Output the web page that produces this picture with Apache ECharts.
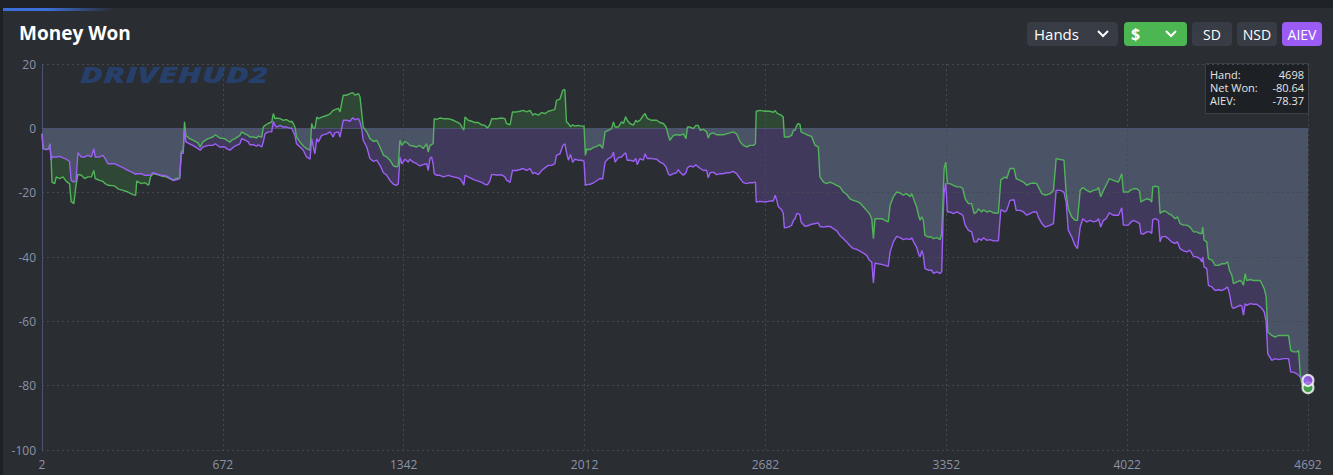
<!DOCTYPE html>
<html>
<head>
<meta charset="utf-8">
<script src="https://cdn.jsdelivr.net/npm/echarts@6/dist/echarts.min.js"></script>
<style>
  html, body { margin:0; padding:0; width:1333px; height:475px; background:#1e2125; overflow:hidden; }
  #panel { position:absolute; left:3px; top:8px; right:0; bottom:0; background:#2a2d32; }
  #bar { position:absolute; left:3px; top:8px; width:110px; height:3px; background:linear-gradient(90deg,#3c6fd9 0%,#3c6fd9 40%,rgba(60,111,217,0) 100%); }
  #chart { position:absolute; left:0; top:0; width:1333px; height:475px; }
</style>
</head>
<body>
<div id="panel"></div>
<div id="bar"></div>
<div id="chart"></div>
<script>
// ---- data ----
const hands = [
2,6,18,28,31,36,39,49,55,67,80,92,104,110,120,128,135,148,160,172,185,194,199,215,228,236,246,271,283,302,320,339,349,353,370,382,397,404,413,425,444,462,475,487,500,512,518,525,530,535,549,561,580,588,598,617,635,644,660,679,
686,698,705,717,735,742,754,766,772,785,797,803,816,822,828,840,853,859,865,871,884,896,908,921,927,933,939,945,958,970,982,995,1001,1007,1013,1020,1026,1038,1057,1069,1081,1087,1100,1106,1118,1131,1143,1153,1162,1174,1180,1186,1192,1205,1217,1230,1242,1254,1267,1279,1291,1304,1316,1322,1328,1335,1347,1359,
1365,1377,1390,1402,1414,1427,1433,1439,1445,1451,1455,1464,1476,1489,1507,1526,1538,1550,1560,1565,1569,1581,1594,1606,1618,1631,1643,1652,1661,1668,1686,1705,1717,1723,1736,1745,1760,1773,1785,1797,1810,1820,1828,1841,1853,1865,1878,1890,1902,1908,1921,1931,1939,1945,1952,1960,1968,1976,1989,2001,2010,2015,
2020,2032,2044,2057,2069,2079,2088,2100,2112,2119,2125,2137,2149,2156,2164,2170,2180,2193,2202,2207,2217,2230,2236,2244,2260,2279,2291,2304,2314,2322,2328,2341,2353,2359,2365,2378,2388,2393,2403,2415,2424,2433,2440,2452,2464,2470,2477,2489,2501,2514,2526,2538,2551,2563,2575,2588,2600,2612,2625,2637,2645,2648,2662,2680,2693,
2699,2711,2718,2724,2730,2742,2748,2752,2767,2779,2786,2792,2798,2804,2810,2814,2829,2841,2853,2866,2878,2884,2897,2909,2921,2934,2946,2958,2971,2983,2995,3008,3020,3032,3045,3057,3067,3076,3082,3088,3100,3113,3125,3137,3144,3156,3168,3181,3193,3205,3218,3224,3233,3242,3249,3255,3261,3267,3273,3286,3298,3304,3317,3329,3335,3340,3344,3350,3353,
3356,3366,3378,3391,3403,3413,3422,3434,3446,3455,3465,3471,3483,3490,3502,3514,3527,3545,3554,3570,3576,3588,3603,3611,3625,3638,3650,3662,3675,3687,3693,3706,3718,3737,3749,3759,3774,3788,3796,3804,3817,3829,3838,3848,3858,3872,3885,3897,3909,3916,3924,3934,3944,3956,3971,3990,4002,4008,4027,
4033,4045,4058,4068,4073,4082,4095,4107,4113,4117,4126,4138,4144,4150,4163,4175,4187,4200,4208,4218,4231,4243,4255,4268,4280,4292,4299,4302,4307,4317,4323,4336,4348,4360,4373,4385,4394,4401,4410,4416,4428,4441,4447,4453,4459,4465,4478,4490,4502,4515,4521,4530,4537,4543,4558,4570,4583,4601,4620,4628,4638,4651,4657,4663,4669,4681,4692
];
const aiev = [
-1.7,-6.3,-6.6,-6.3,-4.8,-9.9,-8.9,-8.9,-8.9,-8.7,-9.2,-9.6,-10.3,-16.2,-16.7,-16.2,-7.6,-8.9,-8.9,-8.4,-8.9,-6.3,-8.9,-8.9,-8.4,-9.4,-11.0,-11.0,-11.5,-12.2,-13.1,-13.8,-14.3,-14.1,-14.1,-14.6,-14.6,-14.6,-13.8,-14.1,-14.6,-14.8,-15.4,-16.2,-16.0,-15.6,-7.6,-7.9,-0.6,-4.2,-4.8,-5.3,-6.3,-6.8,-5.8,-5.3,-5.3,-4.8,-5.8,-5.8,
-6.3,-6.8,-6.3,-5.5,-4.8,-3.2,-3.7,-4.2,-5.1,-5.1,-5.6,-5.1,-5.8,-4.2,-1.7,-1.1,-1.1,2.2,0.9,0.4,0.9,0.4,0.4,0.0,0.1,-1.1,-2.2,-4.8,-5.8,-6.8,-8.9,-9.6,-3.2,-5.8,-7.9,-3.2,-4.2,-2.2,-1.7,-1.1,-2.7,-1.4,-1.1,-2.7,2.5,2.5,2.2,3.3,2.7,3.0,2.0,0.0,-3.7,-5.8,-9.4,-10.3,-9.9,-11.5,-13.8,-14.6,-16.2,-17.4,-17.7,-17.2,-8.9,-11.0,-9.6,-10.5,
-9.6,-10.5,-11.0,-11.7,-11.3,-11.0,-13.1,-9.4,-8.9,-11.0,-14.1,-14.6,-14.6,-15.1,-14.6,-15.1,-15.3,-15.6,-16.8,-17.7,-14.6,-15.1,-15.6,-16.1,-16.4,-16.8,-17.4,-17.6,-16.4,-14.3,-14.5,-14.5,-15.1,-16.1,-16.8,-13.1,-13.1,-12.8,-12.5,-13.1,-12.5,-14.1,-13.8,-14.4,-13.1,-12.3,-11.5,-11.5,-11.0,-8.4,-7.9,-5.4,-4.8,-7.4,-9.9,-8.1,-10.6,-9.6,-9.9,-9.9,-10.3,-17.7,
-17.5,-17.4,-17.0,-16.3,-15.6,-15.8,-10.5,-9.4,-8.9,-7.4,-10.5,-9.1,-8.9,-8.2,-7.6,-9.9,-9.9,-10.3,-9.4,-11.3,-9.4,-9.9,-7.9,-9.4,-9.4,-9.6,-10.5,-11.0,-12.0,-14.1,-14.6,-14.1,-13.8,-12.8,-13.6,-14.6,-13.8,-12.3,-11.7,-12.0,-11.3,-12.0,-12.4,-13.1,-13.0,-15.4,-13.8,-13.6,-14.4,-14.1,-14.1,-13.8,-13.8,-13.4,-14.1,-15.6,-16.9,-17.2,-16.9,-16.9,-16.7,-22.9,-22.7,-22.9,-22.7,
-22.6,-22.6,-20.8,-22.4,-24.4,-25.3,-26.5,-30.9,-30.7,-30.2,-28.6,-28.1,-26.5,-26.5,-27.0,-29.1,-30.5,-30.2,-29.8,-29.6,-29.4,-30.5,-30.7,-30.5,-30.5,-31.2,-31.9,-33.3,-34.3,-35.3,-36.5,-37.4,-37.6,-38.2,-38.8,-39.5,-41.0,-41.6,-48.1,-41.9,-42.1,-42.3,-42.6,-42.9,-38.4,-35.3,-33.6,-34.0,-34.6,-34.3,-34.6,-34.0,-35.6,-36.9,-39.0,-40.0,-38.0,-39.5,-43.6,-44.1,-44.1,-45.1,-44.6,-45.1,-44.6,-28.6,-20.0,-17.0,-21.5,
-26.0,-26.0,-26.5,-26.0,-26.5,-27.0,-30.1,-31.7,-32.2,-35.3,-35.3,-34.3,-34.8,-34.0,-34.8,-34.6,-35.0,-35.0,-25.3,-26.0,-25.5,-22.4,-22.2,-25.5,-25.5,-26.0,-27.0,-26.5,-26.0,-26.0,-27.6,-29.6,-30.7,-30.1,-29.6,-19.3,-19.3,-19.8,-23.0,-31.7,-33.8,-36.4,-37.4,-30.7,-28.1,-29.1,-28.6,-29.1,-28.8,-28.1,-30.7,-28.6,-28.1,-26.3,-27.0,-27.0,-24.7,-30.1,-30.1,
-29.4,-28.6,-29.1,-29.6,-32.7,-32.9,-32.2,-32.2,-32.7,-28.4,-28.1,-28.6,-35.3,-33.8,-33.6,-34.3,-35.3,-35.8,-35.3,-37.4,-38.1,-38.4,-37.9,-39.8,-40.0,-40.5,-41.5,-40.0,-43.1,-43.6,-48.8,-49.3,-50.4,-50.2,-50.4,-49.9,-49.3,-51.4,-55.5,-56.0,-55.5,-55.0,-55.3,-58.1,-54.5,-55.0,-54.5,-54.7,-54.7,-55.5,-56.0,-57.1,-60.2,-70.1,-72.1,-71.6,-71.9,-71.6,-71.6,-75.8,-75.8,-76.3,-76.8,-77.3,-77.8,-78.3,-78.37
];
const netWon = [
-1.7,-6.3,-6.6,-6.3,-4.8,-9.9,-16.7,-17.2,-15.1,-15.6,-15.1,-16.5,-17.2,-22.7,-23.4,-17.7,-14.3,-14.6,-15.6,-15.1,-15.1,-13.1,-15.6,-16.2,-16.5,-17.2,-17.7,-17.9,-18.8,-19.3,-19.8,-20.6,-20.8,-16.4,-17.2,-16.9,-17.7,-15.1,-14.1,-14.3,-14.8,-15.1,-15.6,-16.0,-15.6,-15.4,-7.4,-6.8,2.0,-2.2,-3.2,-3.7,-4.5,-5.8,-4.2,-3.2,-2.7,-2.0,-3.0,-3.2,
-3.7,-4.3,-3.7,-3.2,-2.2,-1.1,-1.7,-2.2,-2.7,-2.7,-3.0,-2.4,-2.7,0.4,0.9,1.5,2.0,4.6,3.0,3.2,3.0,2.5,2.7,2.0,2.2,1.5,0.4,-2.7,-4.3,-5.5,-6.3,-6.8,1.5,0.0,0.0,3.5,3.0,3.5,4.0,4.5,5.6,5.8,6.2,5.1,10.3,10.3,10.8,11.1,10.3,10.8,9.8,5.1,0.4,-1.1,-3.2,-4.1,-3.7,-5.8,-8.4,-8.9,-9.9,-11.7,-12.0,-11.5,-3.7,-5.3,-4.1,-4.8,
-5.3,-5.5,-5.8,-5.3,-6.3,-4.8,-7.4,-5.3,-5.1,-4.8,3.0,2.8,3.2,3.0,3.0,2.5,2.0,1.5,0.0,-0.5,3.5,2.5,2.2,1.8,1.8,1.1,0.9,0.1,1.1,3.0,3.0,3.2,3.0,1.5,1.1,5.1,5.1,5.3,5.6,5.1,5.6,4.1,4.6,4.1,4.9,4.6,5.3,5.6,5.9,8.7,9.1,11.8,12.1,2.0,1.5,0.5,1.1,0.7,0.9,0.7,0.7,-8.4,
-6.5,-6.6,-6.0,-5.6,-5.1,-6.2,-1.1,-0.6,-0.1,2.0,0.4,0.4,2.0,1.5,3.6,2.5,1.5,1.0,2.5,2.0,2.5,4.0,4.6,3.1,2.5,2.5,1.8,1.5,0.4,-2.2,-3.7,-2.2,-2.0,-2.0,-2.2,-1.7,-3.2,0.4,0.4,-0.1,0.9,0.9,-0.6,-0.3,-1.1,-3.0,-1.7,-1.4,-2.0,-2.0,-2.0,-1.7,-1.4,-1.1,-1.7,-4.2,-5.3,-5.8,-5.3,-5.3,-4.8,5.3,5.6,5.3,5.3,
5.3,5.0,5.5,4.8,4.5,4.0,3.5,-2.7,-2.7,-2.2,-0.6,-0.6,0.9,1.5,1.2,-1.1,-1.7,-2.2,-2.5,-5.3,-5.8,-15.1,-16.7,-17.2,-16.7,-17.2,-17.7,-18.2,-19.8,-20.5,-21.9,-22.4,-22.7,-23.2,-24.4,-25.5,-26.5,-28.1,-34.3,-28.1,-28.1,-28.1,-28.6,-29.1,-23.9,-21.3,-19.8,-20.1,-20.8,-20.3,-21.3,-20.3,-22.4,-24.4,-27.0,-28.6,-27.5,-28.6,-33.3,-33.8,-33.8,-34.3,-34.0,-34.6,-32.7,-22.4,-12.5,-10.5,-14.0,
-17.2,-17.2,-17.7,-18.2,-18.2,-18.7,-21.9,-23.4,-23.4,-26.5,-26.0,-25.0,-26.0,-25.3,-26.0,-25.7,-26.3,-26.3,-16.0,-15.1,-15.6,-12.5,-12.5,-15.6,-16.2,-16.7,-17.7,-17.2,-17.0,-17.2,-18.2,-20.3,-20.8,-20.3,-19.3,-9.4,-9.7,-9.9,-20.0,-25.0,-27.6,-28.6,-28.6,-19.3,-18.4,-19.3,-19.8,-19.3,-19.1,-18.4,-21.3,-19.3,-17.7,-15.6,-16.2,-16.7,-14.1,-19.8,-19.8,
-19.3,-18.8,-18.8,-19.5,-22.9,-22.4,-21.9,-22.2,-22.9,-18.2,-18.0,-18.2,-26.5,-26.0,-25.7,-26.5,-27.0,-28.1,-27.5,-29.6,-30.1,-30.1,-30.7,-32.2,-32.2,-32.7,-32.7,-30.7,-34.8,-35.3,-40.5,-41.0,-42.6,-42.6,-42.1,-42.1,-41.5,-44.1,-45.7,-48.3,-47.8,-47.3,-47.8,-48.8,-45.2,-47.3,-47.0,-47.3,-47.3,-47.3,-48.3,-49.9,-52.4,-63.3,-64.4,-64.9,-64.4,-64.4,-64.4,-69.0,-69.5,-69.5,-69.0,-76.0,-79.8,-80.0,-80.64
];
const xTicks = { min: 2, max: 4692, step: 670 };
const yTicks = { min: -100, max: 20, step: 20 };
const lastHandLabel = 4698;

// ---- derived tables for the library ----
const pts = (arr) => hands.map((h, i) => [h, arr[i]]);
const grayBand = hands.map((h, i) => [h, Math.min(0, Math.max(netWon[i], aiev[i]))]);
const nLast = netWon[netWon.length - 1];
const aLast = aiev[aiev.length - 1];
const hLast = hands[hands.length - 1];

const FONT = '"Open Sans", "Noto Sans", sans-serif';
const chart = echarts.init(document.getElementById('chart'), null, { renderer: 'svg' });

function button(x, w, fill, label, chevronX, labelX, bold, size) {
  const children = [
    { type: 'rect', shape: { x: x, y: 22, width: w, height: 24, r: 4 }, style: { fill: fill } },
    { type: 'text', x: labelX !== undefined ? labelX : x + w / 2, y: 34,
      style: { text: label, fill: '#ffffff', font: (bold ? 'bold ' : '') + (size || 14) + 'px ' + FONT,
               align: labelX !== undefined ? 'left' : 'center', verticalAlign: 'middle' } }
  ];
  if (chevronX !== undefined) {
    children.push({ type: 'polyline', shape: { points: [[chevronX - 5, 31], [chevronX, 36], [chevronX + 5, 31]] },
      style: { stroke: '#ffffff', lineWidth: 2, fill: null } });
  }
  return { type: 'group', children: children };
}

const option = {
  backgroundColor: 'transparent',
  animation: false,
  grid: { left: 42, right: 25, top: 64, bottom: 25, containLabel: false },
  xAxis: {
    type: 'value', min: xTicks.min, max: xTicks.max, interval: xTicks.step, z: 4,
    axisLine: { show: true, lineStyle: { color: '#4a5370', width: 1 } },
    axisTick: { show: false },
    axisLabel: { color: '#8b93a6', fontSize: 12, fontFamily: FONT, margin: 8, formatter: (v) => String(v) },
    splitLine: { show: true, lineStyle: { color: '#444952', type: [2, 3], width: 1 } }
  },
  yAxis: {
    type: 'value', min: yTicks.min, max: yTicks.max, interval: yTicks.step, z: 4,
    axisLine: { show: true, lineStyle: { color: '#4a5370', width: 1 } },
    axisTick: { show: false },
    axisLabel: { color: '#8b93a6', fontSize: 12, fontFamily: FONT, margin: 6, formatter: (v) => String(v) },
    splitLine: { show: true, lineStyle: { color: '#444952', type: [2, 3], width: 1 } }
  },
  series: [
    { name: 'netFill', type: 'line', data: pts(netWon), showSymbol: false, silent: true, z: 1,
      lineStyle: { width: 0, opacity: 0 }, areaStyle: { color: '#2f4836', opacity: 1 } },
    { name: 'aievFill', type: 'line', data: pts(aiev), showSymbol: false, silent: true, z: 2,
      lineStyle: { width: 0, opacity: 0 }, areaStyle: { color: '#41395c', opacity: 1 } },
    { name: 'grayFill', type: 'line', data: grayBand, showSymbol: false, silent: true, z: 3,
      lineStyle: { width: 0, opacity: 0 }, areaStyle: { color: '#4b5366', opacity: 1 } },
    { name: 'Net Won', type: 'line', data: pts(netWon), showSymbol: false, z: 6,
      lineStyle: { color: '#52b45a', width: 1.4 } },
    { name: 'AIEV', type: 'line', data: pts(aiev), showSymbol: false, z: 7,
      lineStyle: { color: '#9d5ff6', width: 1.4 } },
    { name: 'netEnd', type: 'scatter', data: [[hLast, nLast]], symbolSize: 11, clip: false, z: 8,
      itemStyle: { color: '#4cb652', borderColor: '#ffffff', borderWidth: 2 } },
    { name: 'aievEnd', type: 'scatter', data: [[hLast, aLast]], symbolSize: 11, clip: false, z: 9,
      itemStyle: { color: '#9d5ff6', borderColor: '#ffffff', borderWidth: 2 } }
  ],
  graphic: [
    { type: 'text', x: 19, y: 33, style: { text: 'Money Won', fill: '#ffffff', font: 'bold 19px ' + FONT, align: 'left', verticalAlign: 'middle' } },
    { type: 'text', x: 80, y: 74, scaleX: 1.48, z: 0,
      style: { text: 'DRIVEHUD2', font: 'italic 900 23px ' + FONT, align: 'left', verticalAlign: 'middle', fill: '#263f6b' } },
    button(1027, 91, '#383c44', 'Hands', 1103, 1034, false, 15),
    button(1124, 63, '#4cb652', '$', 1171, 1131, true, 16),
    button(1192, 40, '#383c44', 'SD'),
    button(1237, 40, '#383c44', 'NSD'),
    button(1282, 40, '#9b5cf5', 'AIEV'),
    { type: 'group', z: 20, children: [
      { type: 'rect', shape: { x: 1205.5, y: 63.5, width: 103, height: 50 }, style: { fill: '#1d2025', stroke: '#3c4048', lineWidth: 1 } },
      { type: 'text', x: 1210, y: 74, style: { text: 'Hand:', fill: '#e6e6e6', font: '11px ' + FONT, align: 'left', verticalAlign: 'middle' } },
      { type: 'text', x: 1304, y: 74, style: { text: String(lastHandLabel), fill: '#e6e6e6', font: '11px ' + FONT, align: 'right', verticalAlign: 'middle' } },
      { type: 'text', x: 1210, y: 87, style: { text: 'Net Won:', fill: '#e6e6e6', font: '11px ' + FONT, align: 'left', verticalAlign: 'middle' } },
      { type: 'text', x: 1304, y: 87, style: { text: nLast.toFixed(2), fill: '#e6e6e6', font: '11px ' + FONT, align: 'right', verticalAlign: 'middle' } },
      { type: 'text', x: 1210, y: 100, style: { text: 'AIEV:', fill: '#e6e6e6', font: '11px ' + FONT, align: 'left', verticalAlign: 'middle' } },
      { type: 'text', x: 1304, y: 100, style: { text: aLast.toFixed(2), fill: '#e6e6e6', font: '11px ' + FONT, align: 'right', verticalAlign: 'middle' } }
    ] }
  ]
};
chart.setOption(option);
</script>
</body>
</html>
